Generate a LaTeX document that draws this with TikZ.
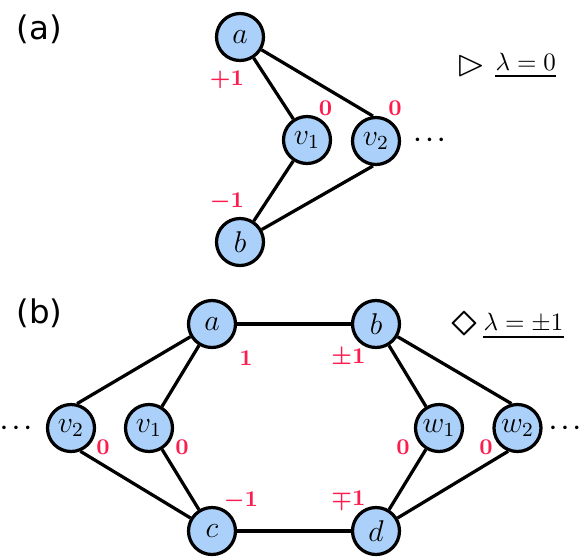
\documentclass[tikz,border=0pt]{standalone}
\usepackage{amssymb}
\usepackage{bm}
\usepackage{fontspec}
\newfontfamily\panelfont{DejaVu Sans}
\usetikzlibrary{positioning}
\definecolor{nodeblue}{RGB}{171,209,250}
\definecolor{weightred}{RGB}{252,28,78}

\begin{document}
\begin{tikzpicture}[
		x=0.4pt, y=-0.4pt,
		vertex/.style={circle, draw, fill=nodeblue, minimum size=18.8pt, inner sep=0pt, line width=1.3pt, font=\large},
		weight/.style={text=weightred, font=\fontsize{8.6}{10}\selectfont, inner sep=0pt},
		edge/.style={line width=1.3pt},
		panel/.style={font=\panelfont\fontsize{13}{15}\selectfont, inner sep=0pt},
		legend/.style={inner sep=0pt, anchor=base west},
		marker/.style={inner sep=0pt, font=\fontsize{15}{17}\selectfont},
		ellipsis/.style={inner sep=0pt, font=\fontsize{9.5}{11}\selectfont}
		]
		\useasboundingbox (0,0) rectangle (581,556);
		
		% Panel (a)
		\node (pa) [panel] at (39.5,29) {(a)};
		\node (a1) [vertex] at (240,37) {$a$};
		\node (b1) [vertex] at (240,242) {$b$};
		\node (v11) [vertex] at (307,140) {$v_1$};
		\node (v21) [vertex] at (376,141) {$v_2$};
		\node (dots1) [ellipsis] at (429.5,140) {$\bm{\cdots}$};
		\node (wa1) [weight] at (227,80) {$\bm{+1}$};
		\node (wb1) [weight] at (227,202) {$\bm{-1}$};
		\node (wv11) [weight] at (325.5,108) {$\bm{0}$};
		\node (wv21) [weight] at (395,108) {$\bm{0}$};
		\node (tri) [marker] at (471.5,66) {$\vartriangleright$};
		\node (lam1) [legend] at (495,70) {$\lambda=0$};
		\draw [line width=0.8pt] ([yshift=-2.4pt]lam1.base west) -- ([yshift=-2.4pt]lam1.base east);
		
		\draw [edge] (a1) -- (v11);
		\draw [edge] (a1) -- (v21.97);
		\draw [edge] (b1) -- (v11);
		\draw [edge] (b1) -- (v21.263);
		
		% Panel (b)
		\node (pb) [panel] at (39.5,313) {(b)};
		\node (a2) [vertex] at (212,324) {$a$};
		\node (b2) [vertex] at (376,324) {$b$};
		\node (c2) [vertex] at (212,531) {$c$};
		\node (d2) [vertex] at (376,531) {$d$};
		\node (v22) [vertex] at (71,428) {$v_2$};
		\node (v12) [vertex] at (149,428) {$v_1$};
		\node (w12) [vertex] at (439,428) {$w_1$};
		\node (w22) [vertex] at (517.5,428) {$w_2$};
		\node (dotsl) [ellipsis, anchor=west] at (0,428) {$\bm{\cdots}$};
		\node (dotsr) [ellipsis, anchor=east] at (581,428) {$\bm{\cdots}$};
		\node (wa2) [weight] at (246,358) {$\bm{1}$};
		\node (wb2) [weight] at (348.5,358) {$\bm{\pm1}$};
		\node (wc2) [weight] at (241,501) {$\bm{-1}$};
		\node (wd2) [weight] at (348.5,500) {$\bm{\mp1}$};
		\node (wv22) [weight] at (103,447) {$\bm{0}$};
		\node (wv12) [weight] at (182,447) {$\bm{0}$};
		\node (ww12) [weight] at (403,447) {$\bm{0}$};
		\node (ww22) [weight] at (486,447) {$\bm{0}$};
		\node (dia) [marker, font=\fontsize{21}{23}\selectfont] at (464.5,325) {$\diamond$};
		\node (lam2) [legend] at (483,330) {$\lambda=\pm1$};
		\draw [line width=0.8pt] ([yshift=-2.6pt]lam2.base west) -- ([yshift=-2.6pt]lam2.base east);
		
		\draw [edge] (a2) -- (b2);
		\draw [edge] (c2) -- (d2);
		\draw [edge] (a2) -- (v22.76);
		\draw [edge] (a2) -- (v12);
		\draw [edge] (c2) -- (v22.-68);
		\draw [edge] (c2) -- (v12);
		\draw [edge] (b2) -- (w12);
		\draw [edge] (b2) -- (w22.104);
		\draw [edge] (d2) -- (w12);
		\draw [edge] (d2) -- (w22.-112);
		
	\end{tikzpicture}
\end{document}
